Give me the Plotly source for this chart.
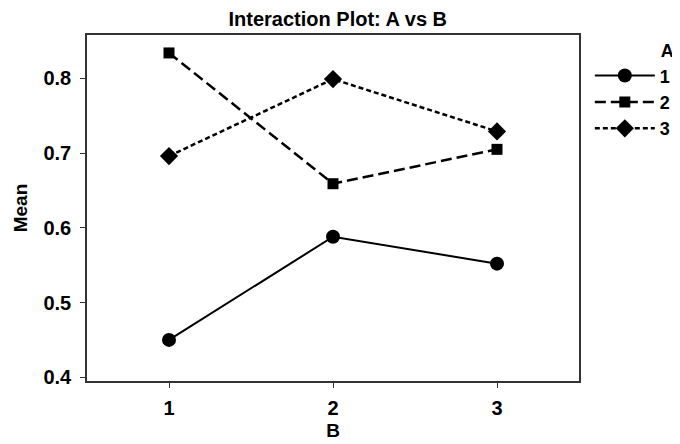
import plotly.graph_objects as go

B_levels = [1, 2, 3]
A1_mean = [0.450, 0.588, 0.552]
A2_mean = [0.834, 0.659, 0.705]
A3_mean = [0.696, 0.799, 0.729]
series_names = ["1", "2", "3"]
y_ticks = [0.4, 0.5, 0.6, 0.7, 0.8]

font_family = "Liberation Sans, Arial, sans-serif"

fig = go.Figure()
fig.add_trace(go.Scatter(x=B_levels, y=A1_mean, name=series_names[0], mode="lines+markers",
                         line=dict(color="black", width=2, dash="solid"),
                         marker=dict(symbol="circle", size=14, color="black")))
fig.add_trace(go.Scatter(x=B_levels, y=A2_mean, name=series_names[1], mode="lines+markers",
                         line=dict(color="black", width=2.5, dash="11px,5px"),
                         marker=dict(symbol="square", size=11, color="black")))
fig.add_trace(go.Scatter(x=B_levels, y=A3_mean, name=series_names[2], mode="lines+markers",
                         line=dict(color="black", width=2.5, dash="5px,3px"),
                         marker=dict(symbol="diamond", size=14, color="black")))

fig.update_layout(
    width=680, height=444,
    margin=dict(l=79, r=109, t=27, b=71, autoexpand=False),
    paper_bgcolor="white", plot_bgcolor="white",
    font=dict(family=font_family, color="black"),
    title=dict(text="<b>Interaction Plot: A vs B</b>", x=0.485, xanchor="center", xref="container",
               y=1 - 4 / 444, yanchor="top", yref="container", pad=dict(t=0, b=0),
               font=dict(size=20, color="black")),
    showlegend=True,
    legend=dict(x=1.022, xanchor="left", y=1.003, yanchor="top",
                title=dict(text="<b>A</b>", side="top right", font=dict(size=18, color="black")),
                font=dict(size=18, color="black", weight="bold"),
                tracegroupgap=0, itemwidth=60, bgcolor="rgba(0,0,0,0)"),
)
fig.update_xaxes(range=[0.5, 3.5], tickvals=B_levels, ticktext=["<b>%d</b>" % b for b in B_levels],
                 ticks="outside", ticklen=5, tickcolor="#333", showline=True, linecolor="#333",
                 linewidth=1.5, mirror=True, showgrid=False, zeroline=False,
                 tickfont=dict(size=20, color="black"), ticklabelstandoff=3,
                 title=dict(text="<b>B</b>", font=dict(size=19, color="black"), standoff=6))
fig.update_yaxes(range=[0.395, 0.858], tickvals=y_ticks, ticktext=["<b>%.1f</b>" % v for v in y_ticks],
                 ticks="outside", ticklen=5, tickcolor="#333", showline=True, linecolor="#333",
                 linewidth=1.5, mirror=True, showgrid=False, zeroline=False,
                 tickfont=dict(size=20, color="black"), ticklabelstandoff=5,
                 title=dict(text="<b>Mean</b>", font=dict(size=19, color="black"), standoff=11))

fig.write_html("out.html")
